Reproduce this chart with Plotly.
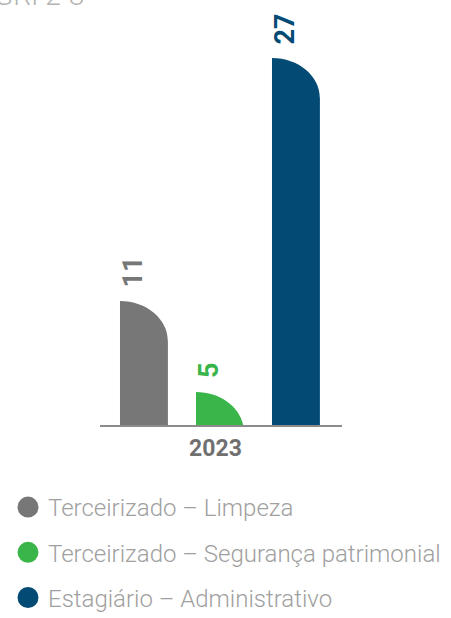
import plotly.graph_objects as go

# ---- data ----
categories = ["2023"]
series_names = ["Terceirizado – Limpeza", "Terceirizado – Segurança patrimonial", "Estagiário – Administrativo"]
series_values = [11, 5, 27]
series_colors = ["#777777", "#39b54a", "#034a75"]
title_text = "GRI 2-8"

W, H = 451, 618
L, R, T, B = 100, 109, 10, 193
plot_w = W - L - R
plot_h = H - T - B
y_min = 2.835
px_per_unit = 15.19
y_max = y_min + plot_h / px_per_unit

cat_pos = list(range(len(categories)))
shift = 0.0227
bar_width = 0.198
bar_offsets = [-0.4174 + shift, -0.1033 + shift, 0.2107 + shift]
rx = bar_width * plot_w
ry = 40
k = 0.5523

fig = go.Figure()
shapes = []
annotations = []
for name, val, col, off in zip(series_names, series_values, series_colors, bar_offsets):
    fig.add_trace(go.Bar(
        x=cat_pos, y=[val], width=bar_width, offset=off,
        marker=dict(color=col, line=dict(width=0)),
        showlegend=False, hoverinfo="skip", name=name,
    ))
    # legend entry with circle symbol (no visible data point)
    fig.add_trace(go.Scatter(
        x=[None], y=[None], mode="markers", name=name, legendgroup=name, showlegend=True,
        hoverinfo="skip",
        marker=dict(color=col, size=16, symbol="circle", line=dict(color=col, width=5)),
    ))
    # white mask to round the top-right corner
    path = (f"M {-rx-1:.2f},0 L {-rx-1:.2f},3 L 3,3 L 3,{-ry} L 0,{-ry} "
            f"C 0,{-ry*(1-k):.2f} {-rx*(1-k):.2f},0 {-rx:.2f},0 Z")
    shapes.append(dict(
        type="path", xref="x", yref="y", xsizemode="pixel", ysizemode="pixel",
        xanchor=cat_pos[0] + off + bar_width, yanchor=val, path=path,
        fillcolor="white", line=dict(width=0), layer="above",
    ))
    annotations.append(dict(
        x=cat_pos[0] + off, y=val, xref="x", yref="y", text=f"<b>{val}</b>", showarrow=False,
        textangle=-90, xanchor="left", yanchor="bottom", yshift=12, xshift=-5,
        font=dict(family="Roboto", size=27, color=col),
    ))

annotations.append(dict(
    x=(-8 - L) / plot_w, y=1, xref="paper", yref="paper", text=title_text,
    showarrow=False, xanchor="left", yanchor="bottom", yshift=-4,
    font=dict(family="Roboto", size=28, color="#b3b3b3", weight=300),
))

fig.update_layout(
    width=W, height=H,
    margin=dict(l=L, r=R, t=T, b=B, autoexpand=False),
    paper_bgcolor="white", plot_bgcolor="white",
    barmode="overlay",
    shapes=shapes, annotations=annotations,
    xaxis=dict(
        type="linear", range=[-0.5 + shift, 0.5 + shift], showgrid=False, zeroline=False,
        tickvals=cat_pos, ticktext=categories,
        showline=True, linecolor="#8c8c8c", linewidth=2, ticks="",
        tickfont=dict(family="Roboto", size=23, color="#707070", weight=700),
        ticklabelstandoff=1, fixedrange=True,
    ),
    yaxis=dict(type="linear", range=[y_min, y_max], visible=False, fixedrange=True),
    showlegend=True,
    legend=dict(
        xref="container", yref="container", x=8 / W, y=1 - 485 / H,
        xanchor="left", yanchor="top", orientation="v",
        font=dict(family="Roboto", size=24, color="#a0a0a0", weight=300),
        tracegroupgap=11, bgcolor="rgba(0,0,0,0)", borderwidth=0,
        itemclick=False, itemdoubleclick=False,
    ),
)

fig.write_html("out.html", config={"displayModeBar": False},
               post_script="document.body.style.margin='0';")
